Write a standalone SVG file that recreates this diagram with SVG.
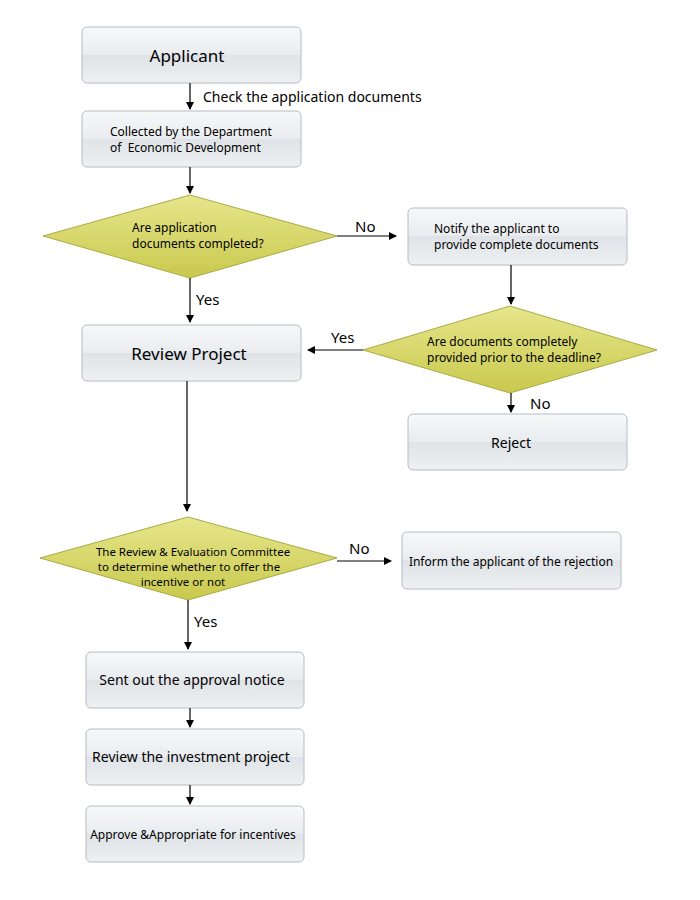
<svg xmlns="http://www.w3.org/2000/svg" width="700" height="900" viewBox="0 0 700 900">
<defs>
<linearGradient id="gb" x1="0" y1="0" x2="0" y2="1"><stop offset="0" stop-color="#f7f8fa"/><stop offset="0.5" stop-color="#e9ecef"/><stop offset="0.5" stop-color="#dfe3e7"/><stop offset="1" stop-color="#eef0f2"/></linearGradient>
<linearGradient id="gd" x1="0" y1="0" x2="0" y2="1"><stop offset="0" stop-color="#e6e68c"/><stop offset="1" stop-color="#c9c94e"/></linearGradient>
<marker id="ar" markerWidth="8" markerHeight="8" refX="7" refY="4" orient="auto" markerUnits="userSpaceOnUse"><path d="M0,0 L8,4 L0,8 Z" fill="#000"/></marker>
<style>
.b{fill:url(#gb);stroke:#b4bcc4;stroke-width:1}
.d{fill:url(#gd);stroke:#aaaa44;stroke-width:1}
text{font-family:"Noto Sans","Open Sans",sans-serif;fill:#000}
.s{font-size:12px}.t{font-size:11.5px}.m{font-size:14px}.l{font-size:17px}.y{font-size:15px}
.c line{stroke:#000;stroke-width:1.2;marker-end:url(#ar)}
</style>
</defs>
<g id="n1"><rect class="b" x="82" y="27" width="219" height="56" rx="5"/><text class="l" x="187" y="62" text-anchor="middle">Applicant</text></g>
<g id="n2"><rect class="b" x="82" y="111" width="219" height="56" rx="5"/><text class="s" x="110" y="136">Collected by the Department</text><text class="s" x="110" y="152" xml:space="preserve">of  Economic Development</text></g>
<g id="n3"><polygon class="d" points="43,236 190,195 337,236 190,278"/><text class="s" x="132" y="232">Are application</text><text class="s" x="132" y="248">documents completed?</text></g>
<g id="n4"><rect class="b" x="408" y="208" width="219" height="57" rx="5"/><text class="s" x="434" y="233">Notify the applicant to</text><text class="s" x="434" y="249">provide complete documents</text></g>
<g id="n5"><polygon class="d" points="363,350 510,306 657,350 510,393"/><text class="s" x="427" y="346">Are documents completely</text><text class="s" x="427" y="362">provided prior to the deadline?</text></g>
<g id="n6"><rect class="b" x="82" y="325" width="219" height="56" rx="5"/><text class="l" x="189" y="360" text-anchor="middle">Review Project</text></g>
<g id="n7"><rect class="b" x="408" y="414" width="219" height="56" rx="5"/><text class="m" x="511" y="448" text-anchor="middle">Reject</text></g>
<g id="n8"><polygon class="d" points="40,558 188,517 337,558 188,600"/><text class="t" x="193" y="556" text-anchor="middle">The Review &amp; Evaluation Committee</text><text class="t" x="189" y="571" text-anchor="middle">to determine whether to offer the</text><text class="t" x="183" y="586" text-anchor="middle">incentive or not</text></g>
<g id="n9"><rect class="b" x="402" y="532" width="219" height="57" rx="5"/><text class="s" x="511" y="566" text-anchor="middle">Inform the applicant of the rejection</text></g>
<g id="n10"><rect class="b" x="86" y="652" width="218" height="56" rx="5"/><text class="m" x="192" y="685" text-anchor="middle">Sent out the approval notice</text></g>
<g id="n11"><rect class="b" x="86" y="729" width="218" height="56" rx="5"/><text class="m" x="191" y="762" text-anchor="middle">Review the investment project</text></g>
<g id="n12"><rect class="b" x="86" y="806" width="218" height="56" rx="5"/><text class="s" x="193" y="839" text-anchor="middle">Approve &amp;Appropriate for incentives</text></g>
<g id="connectors" class="c">
<line x1="190" y1="83" x2="190" y2="109"/>
<line x1="190" y1="167" x2="190" y2="193"/>
<line x1="337" y1="236" x2="396" y2="236"/>
<line x1="511" y1="265" x2="511" y2="304"/>
<line x1="363" y1="350" x2="308" y2="350"/>
<line x1="190" y1="278" x2="190" y2="322"/>
<line x1="511" y1="393" x2="511" y2="412"/>
<line x1="187" y1="381" x2="187" y2="511"/>
<line x1="337" y1="561" x2="391" y2="561"/>
<line x1="188" y1="600" x2="188" y2="649"/>
<line x1="190" y1="708" x2="190" y2="727"/>
<line x1="190" y1="785" x2="190" y2="804"/>
</g>
<g id="labels">
<text class="m" x="203" y="102">Check the application documents</text>
<text class="y" x="355" y="232">No</text>
<text class="y" x="196" y="305">Yes</text>
<text class="y" x="331" y="343">Yes</text>
<text class="y" x="530" y="409">No</text>
<text class="y" x="349" y="554">No</text>
<text class="y" x="194" y="627">Yes</text>
</g>
</svg>
